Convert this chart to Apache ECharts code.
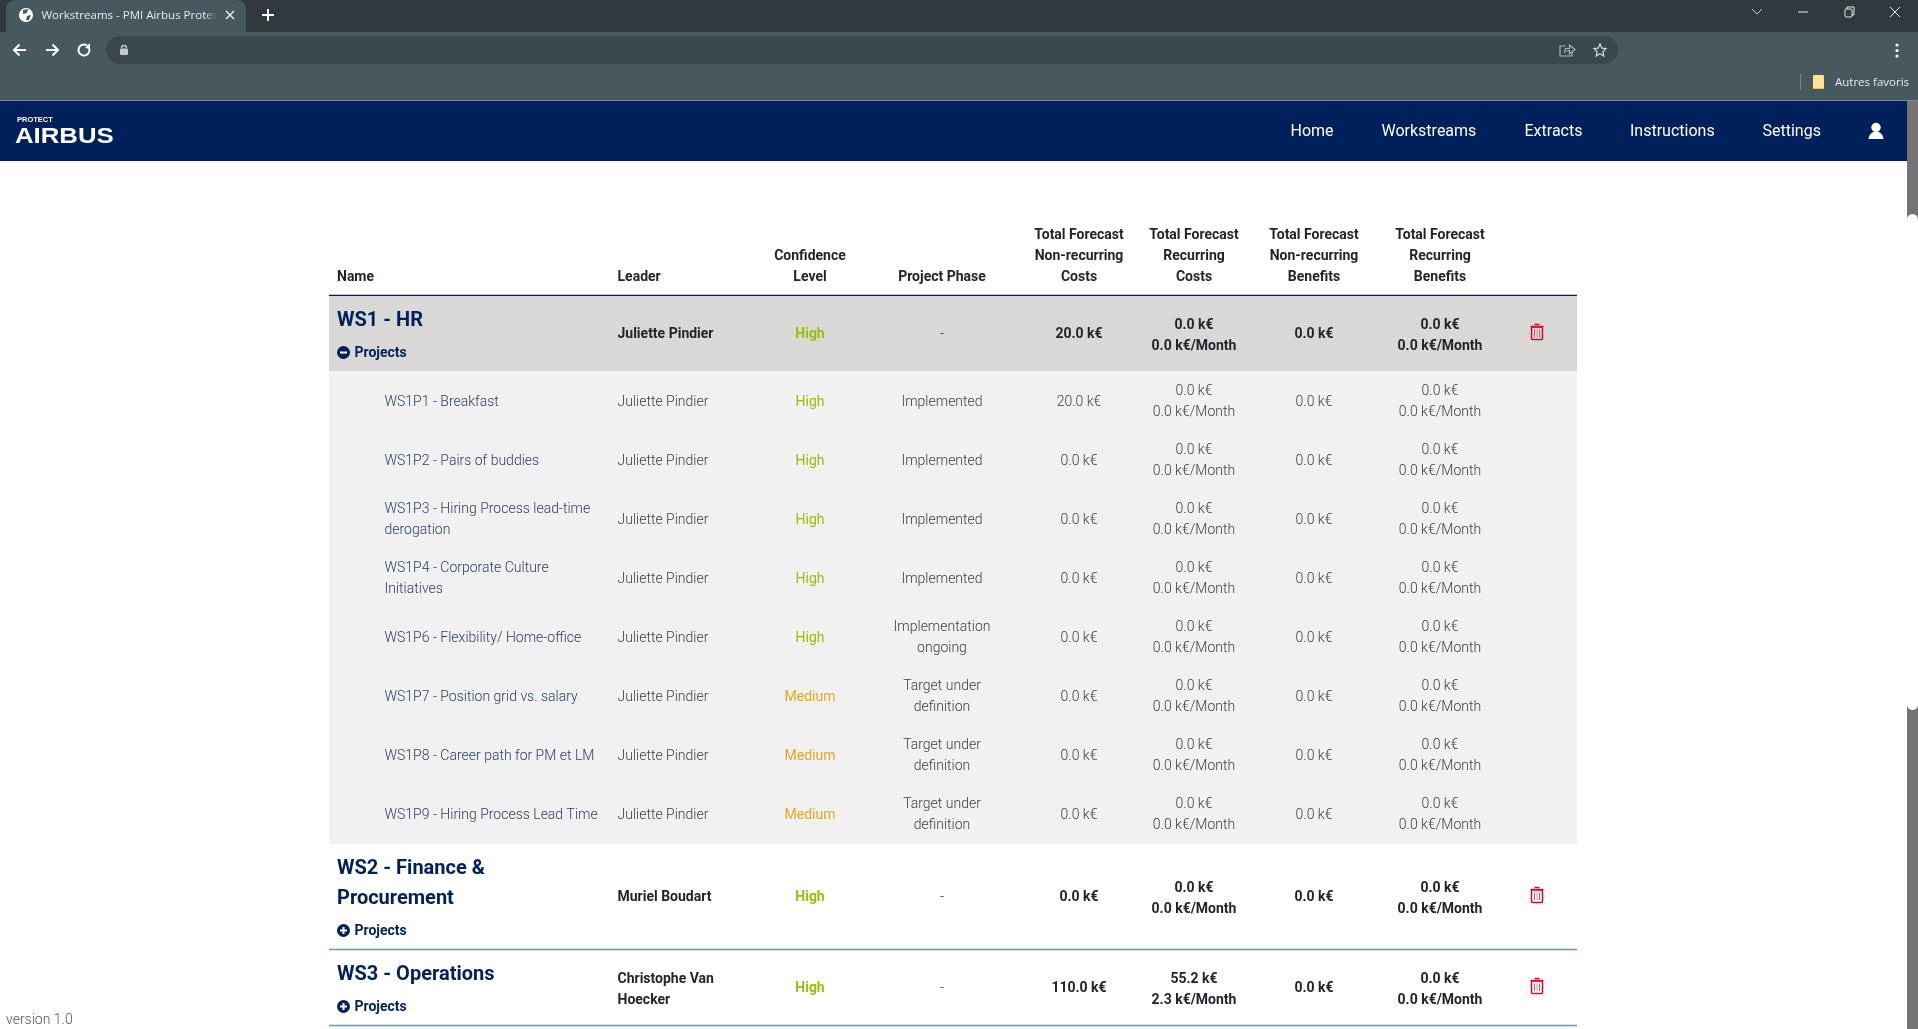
<!DOCTYPE html>
<html>
<head>
<meta charset="utf-8">
<title>Workstreams</title>
<script src="https://cdn.jsdelivr.net/npm/echarts@6/dist/echarts.min.js"></script>
<style>
html, body { margin: 0; padding: 0; background: #fff; overflow: hidden; }
#main { width: 1918px; height: 1029px; }
</style>
</head>
<body>
<div id="main"></div>
<script>
// table content
var names = ['WS1 - HR', 'WS1P1 - Breakfast', 'WS1P2 - Pairs of buddies', 'WS1P3 - Hiring Process lead-time\nderogation',
	'WS1P4 - Corporate Culture\nInitiatives', 'WS1P6 - Flexibility/ Home-office', 'WS1P7 - Position grid vs. salary',
	'WS1P8 - Career path for PM et LM', 'WS1P9 - Hiring Process Lead Time', 'WS2 - Finance &\nProcurement', 'WS3 - Operations'];
var leaders = ['Juliette Pindier', 'Juliette Pindier', 'Juliette Pindier', 'Juliette Pindier', 'Juliette Pindier', 'Juliette Pindier',
	'Juliette Pindier', 'Juliette Pindier', 'Juliette Pindier', 'Muriel Boudart', 'Christophe Van\nHoecker'];
var confidence = ['High', 'High', 'High', 'High', 'High', 'High', 'Medium', 'Medium', 'Medium', 'High', 'High'];
var phases = ['-', 'Implemented', 'Implemented', 'Implemented', 'Implemented', 'Implementation\nongoing',
	'Target under\ndefinition', 'Target under\ndefinition', 'Target under\ndefinition', '-', '-'];
var nonRecCosts = [20, 20, 0, 0, 0, 0, 0, 0, 0, 0, 110];
var recCosts = [0, 0, 0, 0, 0, 0, 0, 0, 0, 0, 55.2];
var recCostsMonth = [0, 0, 0, 0, 0, 0, 0, 0, 0, 0, 2.3];
var nonRecBenefits = [0, 0, 0, 0, 0, 0, 0, 0, 0, 0, 0];
var recBenefits = [0, 0, 0, 0, 0, 0, 0, 0, 0, 0, 0];
var recBenefitsMonth = [0, 0, 0, 0, 0, 0, 0, 0, 0, 0, 0];
var isWorkstream = [1, 0, 0, 0, 0, 0, 0, 0, 0, 1, 1];

var headers = ['Name', 'Leader', 'Confidence\nLevel', 'Project Phase', 'Total Forecast\nNon-recurring\nCosts',
	'Total Forecast\nRecurring\nCosts', 'Total Forecast\nNon-recurring\nBenefits', 'Total Forecast\nRecurring\nBenefits'];
var navItems = ['Home', 'Workstreams', 'Extracts', 'Instructions', 'Settings'];

// page layout, in page pixels
var rowTops = [296, 371, 430, 489, 548, 607, 666, 725, 783, 844, 950];
var rowBottoms = [371, 430, 489, 548, 607, 666, 725, 784, 844, 949, 1025];
var colX = [337, 617.5, 810, 942, 1079, 1194, 1314, 1440];
var navX = [1312, 1381.5, 1524.5, 1630, 1762.5];

var NAVY = '#00205b', DARK = '#212529', SOFT = '#3a3f44', RED = '#e4003a', WHITE = '#ffffff';
var FONT = 'Roboto';
var TEXT_DY = 1.5; // Roboto sits a bit high on the canvas
var confColor = { High: '#97bf0d', Medium: '#e5a823' };

function kEuro(v) { return v.toFixed(1) + ' k€'; }
function twoLines(a, b) { return kEuro(a) + '\n' + b.toFixed(1) + ' k€/Month'; }

function txt(x, y, text, fill, size, weight, align, lh, family) {
	return {
		type: 'text', silent: true,
		style: {
			x: x, y: family ? y + 1 : y + TEXT_DY, text: text, fill: fill, fontSize: size, fontWeight: weight || 400, fontFamily: family || FONT,
			align: align || 'left', verticalAlign: 'middle', lineHeight: lh || 21
		}
	};
}
function rect(x, y, w, h, fill, r) {
	return { type: 'rect', silent: true, shape: { x: x, y: y, width: w, height: h, r: r || 0 }, style: { fill: fill } };
}
function line(x1, y1, x2, y2, color, w) {
	return { type: 'line', silent: true, shape: { x1: x1, y1: y1, x2: x2, y2: y2 }, style: { stroke: color, lineWidth: w || 1.5, fill: null } };
}
function poly(points, color, w) {
	return { type: 'polyline', silent: true, shape: { points: points }, style: { stroke: color, lineWidth: w || 1.5, fill: null } };
}
function circle(x, y, r, fill) {
	return { type: 'circle', silent: true, shape: { cx: x, cy: y, r: r }, style: { fill: fill } };
}

function trashIcon(cx, cy) {
	return [
		{ type: 'rect', silent: true, shape: { x: cx - 5.5, y: cy - 4.5, width: 11, height: 12.5, r: 1 }, style: { fill: null, stroke: RED, lineWidth: 1.5 } },
		line(cx - 6.5, cy - 5, cx + 6.5, cy - 5, RED, 1.5),
		line(cx - 2.5, cy - 7, cx + 2.5, cy - 7, RED, 1.5),
		line(cx - 2.5, cy - 2, cx - 2.5, cy + 5.5, '#c95a78', 1),
		line(cx, cy - 2, cx, cy + 5.5, '#c99a60', 1),
		line(cx + 2.5, cy - 2, cx + 2.5, cy + 5.5, '#c95a78', 1)
	];
}

// one table row, placed through the hidden pixel axes
function renderRow(params, api) {
	var i = api.value(0);
	var top = api.coord([0, rowTops[i]])[1];
	var bottom = api.coord([0, rowBottoms[i]])[1];
	var ws = isWorkstream[i] === 1;
	var center = (top + bottom) / 2;
	var mid = center - (ws ? 0.7 : 0); // single line cells
	var weight = ws ? 700 : 300;
	var color = ws ? DARK : SOFT;
	var size = 14;
	var kids = [];
	var px = function (c) { return api.coord([colX[c], 0])[0]; };

	if (i === 0) kids.push(rect(329, top, 1248, bottom - top, '#d9d8d6'));
	else if (!ws) kids.push(rect(329, top, 1248, bottom - top, '#f1f1f1'));
	else kids.push(line(329, bottom + 0.5, 1577, bottom + 0.5, '#6a96aa', 1.5));

	if (ws) {
		var lines = names[i].split('\n');
		for (var k = 0; k < lines.length; k++) {
			kids.push(txt(px(0), top + 23.3 + k * 30, lines[k], NAVY, 20, 700, 'left', 30));
		}
		var py = bottom - 19;
		kids.push(circle(px(0) + 6.5, py + 0.5, 6.5, NAVY));
		kids.push(rect(px(0) + 3, py - 0.5, 7, 2, WHITE));
		if (i !== 0) kids.push(rect(px(0) + 5.5, py - 3, 2, 7, WHITE));
		kids.push(txt(px(0) + 17.5, py, 'Projects', NAVY, 14, 700));
		kids = kids.concat(trashIcon(1537, mid - 1.3));
	} else {
		kids.push(txt(px(0) + 47.5, mid, names[i], '#2c3e60', size, 300));
	}
	kids.push(txt(px(1), leaders[i].indexOf('\n') > -1 ? center + 0.5 : mid, leaders[i], color, size, weight));
	kids.push(txt(px(2), mid, confidence[i], confColor[confidence[i]], size, ws ? 700 : 400, 'center'));
	kids.push(txt(px(3), mid, phases[i], color, size, 300, 'center'));
	kids.push(txt(px(4), mid, kEuro(nonRecCosts[i]), color, size, weight, 'center'));
	kids.push(txt(px(5), ws ? center + 0.5 : center, twoLines(recCosts[i], recCostsMonth[i]), color, size, weight, 'center'));
	kids.push(txt(px(6), mid, kEuro(nonRecBenefits[i]), color, size, weight, 'center'));
	kids.push(txt(px(7), ws ? center + 0.5 : center, twoLines(recBenefits[i], recBenefitsMonth[i]), color, size, weight, 'center'));
	return { type: 'group', children: kids };
}

// browser window and page furniture
var STRIP = '#2f393e', BAR = '#47585f', UI = 'Open Sans';
var chrome = [
	rect(0, 0, 1918, 32, STRIP),
	rect(0, 32, 1918, 68, BAR),
	rect(6, 0, 240, 32, BAR, [9, 9, 0, 0]),
	circle(26, 15, 7, '#ffffff'),
	{ type: 'polygon', silent: true, shape: { points: [[23, 10], [28, 9], [27, 13], [23, 14]] }, style: { fill: BAR } },
	{ type: 'polygon', silent: true, shape: { points: [[27, 16], [31, 15], [29, 20], [26, 20]] }, style: { fill: BAR } },
	txt(41.5, 15, 'Workstreams - PMI Airbus Protec', '#e8eaed', 11.5, 400, 'left', 16, UI),
	{ type: 'rect', silent: true, shape: { x: 205, y: 6, width: 17, height: 18 }, style: { fill: { type: 'linear', x: 0, y: 0, x2: 1, y2: 0, colorStops: [{ offset: 0, color: 'rgba(71,88,95,0)' }, { offset: 0.7, color: BAR }, { offset: 1, color: BAR }] } } },
	line(226, 11, 234, 19, '#e8eaed', 1.5), line(234, 11, 226, 19, '#e8eaed', 1.5),
	line(262, 15, 274, 15, WHITE, 2), line(268, 9, 268, 21, WHITE, 2),
	line(1752, 9, 1757, 14, '#c9cfd2', 1), line(1757, 14, 1762, 9, '#c9cfd2', 1),
	line(1798, 12, 1808, 12, '#e8eaed', 1),
	{ type: 'rect', silent: true, shape: { x: 1845, y: 9, width: 7, height: 8, r: 1 }, style: { fill: STRIP, stroke: '#e8eaed', lineWidth: 1 } },
	poly([[1847, 9], [1847, 7], [1854, 7], [1854, 15], [1852, 15]], '#e8eaed', 1),
	line(1890, 7, 1900, 17, '#e8eaed', 1), line(1900, 7, 1890, 17, '#e8eaed', 1),
	// toolbar
	poly([[26, 50], [14, 50]], WHITE, 2), poly([[19.5, 44.5], [14, 50], [19.5, 55.5]], WHITE, 2),
	poly([[46, 50], [58, 50]], WHITE, 2), poly([[52.5, 44.5], [58, 50], [52.5, 55.5]], WHITE, 2),
	{ type: 'arc', silent: true, shape: { cx: 84, cy: 50, r: 5.5, startAngle: -0.5, endAngle: 5.3 }, style: { stroke: WHITE, lineWidth: 2, fill: null } },
	{ type: 'polygon', silent: true, shape: { points: [[90, 43], [90, 49], [85, 48]] }, style: { fill: WHITE } },
	rect(106, 36, 1512, 28, '#3a474d', 14),
	rect(120, 48.5, 8, 6.5, '#c5c9cb', 1),
	{ type: 'arc', silent: true, shape: { cx: 124, cy: 48, r: 2.5, startAngle: Math.PI, endAngle: 0 }, style: { stroke: '#c5c9cb', lineWidth: 1.3, fill: null } },
	poly([[1565.5, 46], [1560, 46], [1560, 56], [1572, 56], [1572, 52]], '#a9b1b5', 1.2),
	poly([[1564.5, 53], [1565.5, 48.5], [1569.5, 48.5], [1569.5, 45], [1575, 49.5], [1569.5, 54], [1569.5, 50.5], [1566.5, 51]], '#a9b1b5', 1.2),
	{ type: 'polygon', silent: true, shape: { points: [[1600, 44], [1601.9, 48.2], [1606, 48.6], [1603, 51.6], [1603.8, 56], [1600, 53.8], [1596.2, 56], [1597, 51.6], [1594, 48.6], [1598.1, 48.2]] }, style: { fill: null, stroke: '#d5d9db', lineWidth: 1.3 } },
	circle(1897, 45, 1.6, WHITE), circle(1897, 50.5, 1.6, WHITE), circle(1897, 56, 1.6, WHITE),
	line(1800.5, 74, 1800.5, 90, '#78878e', 1),
	rect(1813, 75, 11, 14, '#fde293', 1),
	line(1813, 88.5, 1824, 88.5, '#e8c04d', 1),
	txt(1835, 82, 'Autres favoris', '#e8eaed', 11.5, 400, 'left', 16, UI),
	rect(0, 100, 1918, 1, '#7d888d'),
	// navbar
	rect(0, 101, 1907, 60, NAVY),
	txt(17, 119, 'PROTECT', WHITE, 7.5, 700, 'left', 10, 'Liberation Sans'),
	{ type: 'text', silent: true, x: 15, y: 136.5, scaleX: 1.17, style: { x: 0, y: 0, text: 'AIRBUS', fill: WHITE, fontSize: 22, fontWeight: 700, fontFamily: 'Liberation Sans', verticalAlign: 'middle' } },
	circle(1876, 127.5, 4.7, WHITE),
	{ type: 'sector', silent: true, shape: { cx: 1876, cy: 139, r0: 0, r: 7.5, startAngle: Math.PI, endAngle: 2 * Math.PI }, style: { fill: WHITE } },
	// scrollbar
	rect(1907, 101, 11, 928, '#737373'),
	rect(1907, 214, 11, 496, WHITE, 5.5),
	// table header rule and footer text
	line(329, 295.5, 1577, 295.5, NAVY, 1.5),
	txt(6, 1019, 'version 1.0', '#555555', 14, 300)
];
for (var n = 0; n < navItems.length; n++) {
	chrome.push(txt(navX[n], 130.5, navItems[n], WHITE, 16, 400, n === 0 ? 'center' : 'left'));
}
// header cells, all sitting on the same last line
for (var h = 0; h < headers.length; h++) {
	var count = headers[h].split('\n').length;
	chrome.push(txt(colX[h], 276 - (count - 1) * 10.5, headers[h], DARK, 14, 700, h < 2 ? 'left' : 'center'));
}

var rowIndex = names.map(function (d, i) { return [i]; });

var myChart = echarts.init(document.getElementById('main'), null, { renderer: 'canvas' });
myChart.setOption({
	animation: false,
	backgroundColor: '#ffffff',
	tooltip: { show: false },
	grid: { left: 0, right: 0, top: 0, bottom: 0 },
	xAxis: { type: 'value', min: 0, max: 1918, show: false },
	yAxis: { type: 'value', min: 0, max: 1029, inverse: true, show: false },
	series: [{
		type: 'custom',
		coordinateSystem: 'cartesian2d',
		clip: false,
		silent: true,
		encode: { x: -1, y: 0 },
		renderItem: renderRow,
		data: rowIndex
	}],
	graphic: { elements: chrome }
});
</script>
</body>
</html>
